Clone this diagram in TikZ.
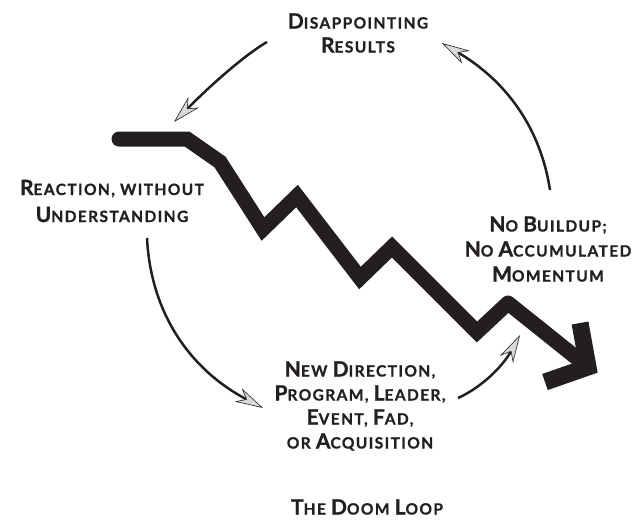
\documentclass[tikz,border=0pt]{standalone}
\usepackage{fontspec}
\setmainfont{Lato}[BoldFont={Lato Bold}, BoldFeatures={LetterSpace=9, FakeBold=1}]
\usetikzlibrary{arrows.meta}
\definecolor{ink}{HTML}{231F20}
\newcommand\Bg[1]{{\fontsize{21}{24}\selectfont #1}}
\newcommand\Sm[1]{{\fontsize{15.5}{24}\selectfont #1}}
\begin{document}
\begin{tikzpicture}[x=1pt,y=-1pt,
  lbl/.style={align=center, text=ink, font=\bfseries\fontsize{15.5}{24}\selectfont, inner sep=0pt},
  zig/.style={draw=ink, line width=15pt, line join=miter, miter limit=10},
  headarm/.style={draw=ink, line width=17pt, line join=miter, line cap=butt, miter limit=10},
  loopline/.style={draw=ink, line width=2.5pt,
    -{Stealth[length=28pt,width=15pt,inset=9pt,fill=gray!30,line width=0.6pt]}}
]
\path[use as bounding box] (0,0) rectangle (641,520);

% labels
\node[lbl] (dis) at (358,33) {\Bg{D}\Sm{ISAPPOINTING}\\\Bg{R}\Sm{ESULTS}};
\node[lbl, font=\bfseries\fontsize{15.5}{27}\selectfont] (rea) at (112,201)
  {\Bg{R}\Sm{EACTION, WITHOUT}\\\Bg{U}\Sm{NDERSTANDING}};
\node[lbl, font=\bfseries\fontsize{15.5}{25}\selectfont] (nob) at (548,249)
  {\Bg{N}\Sm{O} \Bg{B}\Sm{UILDUP;}\\\Bg{N}\Sm{O} \Bg{A}\Sm{CCUMULATED}\\\Bg{M}\Sm{OMENTUM}};
\node[lbl] (new) at (360,406)
  {\Bg{N}\Sm{EW} \Bg{D}\Sm{IRECTION,}\\\Bg{P}\Sm{ROGRAM,} \Bg{L}\Sm{EADER,}\\\Bg{E}\Sm{VENT,} \Bg{F}\Sm{AD,}\\\Sm{OR} \Bg{A}\Sm{CQUISITION}};
\node[lbl] (doom) at (367,507) {\Bg{T}\Sm{HE} \Bg{D}\Sm{OOM} \Bg{L}\Sm{OOP}};

% zigzag
\coordinate (p0) at (119,139);
\coordinate (p1) at (187,139);
\coordinate (p2) at (220,162);
\coordinate (p3) at (263,229);
\coordinate (p4) at (297,196);
\coordinate (p5) at (360,278);
\coordinate (p6) at (392,247);
\coordinate (p7) at (477,332);
\coordinate (p8) at (508,303);
\coordinate (tip) at (588,367);
\coordinate (armA) at (580,323);
\coordinate (armB) at (545,382);
\draw[zig, line cap=round] (p0) -- (p1) -- (p2) -- (p3) -- (p4) -- (p5) -- (p6) -- (p7) -- (p8);
\draw[zig, line cap=butt] (p8) -- (tip);
\draw[headarm] (armA) -- (tip) -- (armB);

% loop arrows
\coordinate (a1s) at (267,42);  \coordinate (a1e) at (174,122);
\coordinate (a2s) at (147,238); \coordinate (a2e) at (263,408);
\coordinate (a3s) at (458,398); \coordinate (a3e) at (520,335);
\coordinate (a4s) at (550,190); \coordinate (a4e) at (442,43);
\draw[loopline] (a1s) .. controls (248,53) and (217,79) .. (a1e);
\draw[loopline] (a2s) .. controls (150.7,312) and (189,369) .. (a2e);
\draw[loopline] (a3s) .. controls (481.7,387.3) and (502.7,366.3) .. (a3e);
\draw[loopline] (a4s) .. controls (540,125.3) and (504,79.7) .. (a4e);
\end{tikzpicture}
\end{document}
